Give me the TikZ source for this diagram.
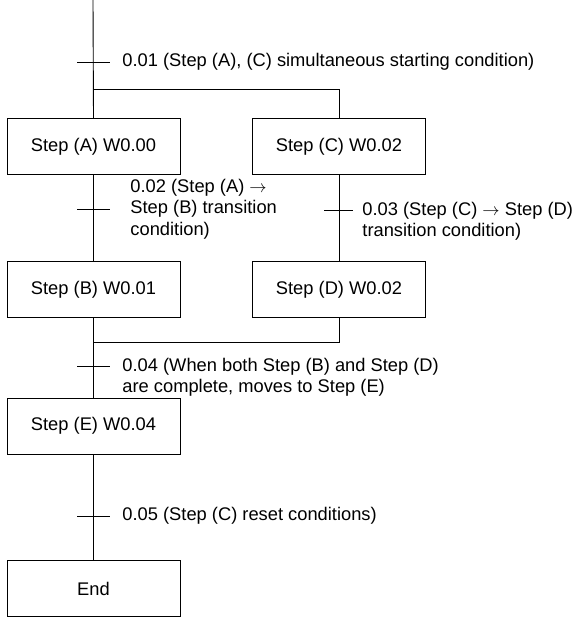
\documentclass[tikz,border=0pt]{standalone}
\usepackage{fontspec}
\setmainfont{Liberation Sans}
\begin{document}
\begin{tikzpicture}[x=1pt,y=-1pt,
  line width=0.9pt,
  stepbox/.style={draw, minimum width=173pt, minimum height=56pt, inner sep=0pt, font=\fontsize{18.3}{21.5}\selectfont},
  lbl/.style={anchor=west, align=left, inner sep=0pt, font=\fontsize{18.3}{21.5}\selectfont},
  tick/.style={line width=0.9pt}]
\useasboundingbox (0,0) rectangle (580,619);
% coordinates
\coordinate (top) at (93,0);
\coordinate (t1) at (93,62);
\coordinate (fork) at (93,89);
\coordinate (forkR) at (339,89);
\coordinate (t2) at (93,209);
\coordinate (t3) at (339,210);
\coordinate (join) at (93,342);
\coordinate (joinR) at (339,342);
\coordinate (t4) at (93,366);
\coordinate (t5) at (93,516);
% boxes
\node[stepbox] (A) at (93.5,146.5) {Step (A) W0.00};
\node[stepbox] (C) at (339,146.5) {Step (C) W0.02};
\node[stepbox] (B) at (93.5,289.5) {Step (B) W0.01};
\node[stepbox] (D) at (339,289.5) {Step (D) W0.02};
\node[stepbox] (E) at (93.5,426) {Step (E) W0.04};
\node[stepbox] (End) at (93.5,588.5) {End};
% connectors
\draw (top) -- (A.north);
\draw (fork) -- (forkR) -- (C.north);
\draw (A.south) -- (B.north);
\draw (C.south) -- (D.north);
\draw (B.south) -- (E.north);
\draw (D.south) -- (joinR) -- (join);
\draw (E.south) -- (End.north);
% ticks
\foreach \t in {t1,t2,t4,t5}{
  \draw[tick] ([xshift=-16pt]\t) -- ([xshift=17pt]\t);
}
\draw[tick] ([xshift=-15pt]t3) -- ([xshift=14pt]t3);
% labels
\node[lbl] (l1) at (122,62) {0.01 (Step (A), (C) simultaneous starting condition)};
\node[lbl] (l2) at (130,209) {0.02 (Step (A) $\rightarrow$\\Step (B) transition\\condition)};
\node[lbl] (l3) at (362,221.5) {0.03 (Step (C) $\rightarrow$ Step (D)\\transition condition)};
\node[lbl] (l4) at (122,377.5) {0.04 (When both Step (B) and Step (D)\\are complete, moves to Step (E)};
\node[lbl] (l5) at (122,516) {0.05 (Step (C) reset conditions)};
\end{tikzpicture}
\end{document}
